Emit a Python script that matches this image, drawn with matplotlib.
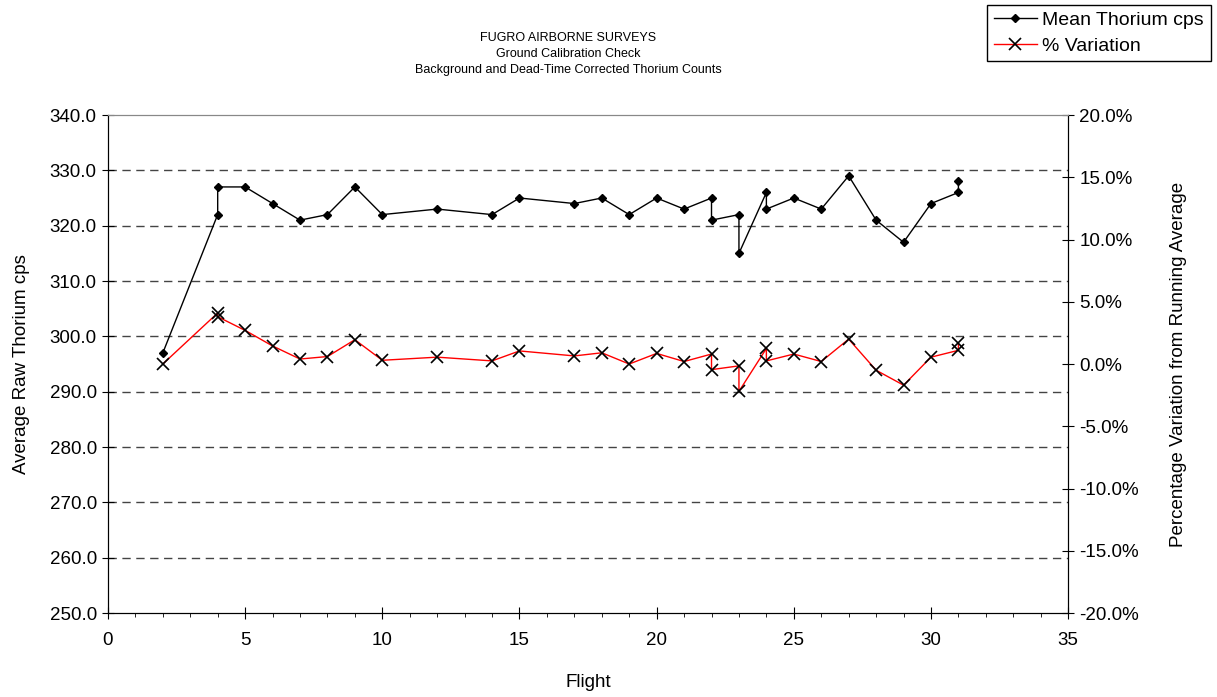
import matplotlib.pyplot as plt
from matplotlib.ticker import FuncFormatter, MultipleLocator

plt.rcParams['font.family'] = ['Liberation Sans', 'DejaVu Sans']

# Flight numbers (repeated flights have two readings)
flights = [2, 4, 4, 5, 6, 7, 8, 9, 10, 12, 14, 15, 17, 18, 19, 20, 21,
           22, 22, 23, 23, 24, 24, 25, 26, 27, 28, 29, 30, 31, 31]
mean_thorium = [297, 322, 327, 327, 324, 321, 322, 327, 322, 323, 322, 325, 324, 325, 322, 325, 323,
                325, 321, 322, 315, 326, 323, 325, 323, 329, 321, 317, 324, 326, 328]
pct_variation = [0.0, 4.1, 3.8, 2.7, 1.45, 0.4, 0.6, 1.95, 0.3, 0.55, 0.25, 1.05, 0.65, 0.9, 0.0, 0.85, 0.2,
                 0.8, -0.45, -0.15, -2.2, 1.25, 0.25, 0.8, 0.2, 2.0, -0.5, -1.7, 0.55, 1.1, 1.65]

fig = plt.figure(figsize=(12.17, 6.97), dpi=100)
ax = fig.add_axes([0.0887, 0.1205, 0.789, 0.7145])
ax2 = ax.twinx()

l1, = ax.plot(flights, mean_thorium, color='black', linewidth=1, marker='D', markersize=4,
              label='Mean Thorium cps')
l2, = ax2.plot(flights, [v / 100 for v in pct_variation], color='red', linewidth=1, marker='x',
               markersize=8, markeredgecolor='black', markeredgewidth=1.2, label='% Variation')

ax.set_xlim(0, 35)
ax.set_ylim(250, 340)
ax2.set_ylim(-0.20, 0.20)
ax.xaxis.set_major_locator(MultipleLocator(5))
ax.xaxis.set_minor_locator(MultipleLocator(1))
ax.yaxis.set_major_locator(MultipleLocator(10))
ax2.yaxis.set_major_locator(MultipleLocator(0.05))
ax.yaxis.set_major_formatter(FuncFormatter(lambda v, p: f'{v:.1f}'))
ax2.yaxis.set_major_formatter(FuncFormatter(lambda v, p: f'{v * 100:.1f}%'))

# dashed horizontal gridlines
for y in range(260, 340, 10):
    ax.axhline(y, color='#444444', linestyle=(0, (6, 4)), linewidth=1, zorder=0)

for a in (ax, ax2):
    a.tick_params(which='major', direction='inout', length=8, labelsize=13.5, color='black', pad=4)
ax.tick_params(axis='x', which='minor', direction='out', length=3)
ax.tick_params(axis='x', which='major', pad=10)
ax.spines['top'].set_color('#888888')
ax2.spines['top'].set_color('#888888')

ax.set_xlabel('Flight', fontsize=13.5, labelpad=18)
ax.set_ylabel('Average Raw Thorium cps', fontsize=13.5, labelpad=14)
ax2.set_ylabel('Percentage Variation from Running Average', fontsize=13.5, labelpad=22)

fig.text(0.467, 0.945, 'FUGRO AIRBORNE SURVEYS', ha='center', va='center', fontsize=9)
fig.text(0.467, 0.922, 'Ground Calibration Check', ha='center', va='center', fontsize=9)
fig.text(0.467, 0.899, 'Background and Dead-Time Corrected Thorium Counts', ha='center', va='center', fontsize=9)

fig.legend(handles=[l1, l2], loc='upper right', bbox_to_anchor=(0.995, 0.993), fontsize=14,
           frameon=True, fancybox=False, edgecolor='black', framealpha=1,
           handlelength=2.2, handletextpad=0.3, borderpad=0.35, labelspacing=0.4,
           borderaxespad=0)

fig.savefig('out.png', dpi=100)
